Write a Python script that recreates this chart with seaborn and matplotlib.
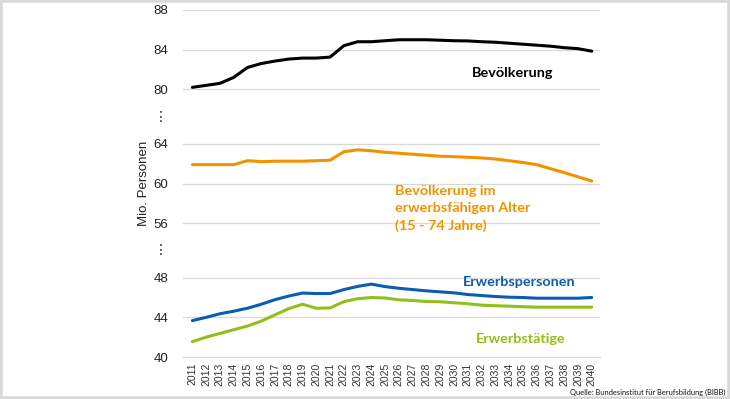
import numpy as np
import pandas as pd
import seaborn as sns
import matplotlib.pyplot as plt
from matplotlib.patches import Rectangle
from matplotlib.transforms import blended_transform_factory

# data (Mio. Personen)
years = list(range(2011, 2041))
bevoelkerung = [80.2, 80.4, 80.6, 81.2, 82.2, 82.6, 82.85, 83.05, 83.15, 83.15,
                83.25, 84.4, 84.8, 84.8, 84.9, 85.0, 85.0, 85.0, 84.95, 84.9,
                84.88, 84.8, 84.75, 84.65, 84.55, 84.45, 84.35, 84.2, 84.1, 83.85]
erwerbsalter = [61.9, 61.9, 61.9, 61.9, 62.3, 62.2, 62.25, 62.25, 62.25, 62.3,
                62.35, 63.2, 63.4, 63.3, 63.15, 63.05, 62.95, 62.85, 62.75, 62.7,
                62.65, 62.58, 62.47, 62.3, 62.12, 61.9, 61.5, 61.1, 60.68, 60.25]
erwerbspersonen = [43.67, 44.0, 44.36, 44.62, 44.92, 45.32, 45.78, 46.15, 46.45, 46.4,
                   46.4, 46.8, 47.12, 47.35, 47.1, 46.93, 46.8, 46.67, 46.57, 46.47,
                   46.3, 46.2, 46.1, 46.03, 46.0, 45.93, 45.93, 45.93, 45.93, 46.0]
erwerbstaetige = [41.55, 42.0, 42.38, 42.75, 43.12, 43.62, 44.25, 44.88, 45.32, 44.92,
                  44.95, 45.58, 45.88, 46.0, 45.95, 45.77, 45.7, 45.6, 45.57, 45.47,
                  45.37, 45.23, 45.17, 45.13, 45.07, 45.03, 45.03, 45.03, 45.03, 45.03]
series_names = ["Bevölkerung", "Bevölkerung im erwerbsfähigen Alter",
                "Erwerbspersonen", "Erwerbstätige"]
colors = ["#000000", "#F39200", "#0A5DB0", "#93BF1A"]
ytick_values = [40, 44, 48, 56, 60, 64, 80, 84, 88]


def to_axis(v):
    # broken y axis: squeeze out 48-56 and 64-80
    v = np.asarray(v, dtype=float)
    return np.where(v >= 72, v - 13.0, np.where(v >= 52, v - 2.5, v))


df = pd.DataFrame({
    "year": years * 4,
    "value": bevoelkerung + erwerbsalter + erwerbspersonen + erwerbstaetige,
    "series": sum([[n] * len(years) for n in series_names], []),
})
df["pos"] = to_axis(df["value"])

sns.set_theme(style="white")
plt.rcParams["font.family"] = ["Lato", "DejaVu Sans"]

fig = plt.figure(figsize=(7.3, 3.99), dpi=100)
ax = fig.add_axes([183 / 730, 1 - 357 / 399, 417 / 730, 347 / 399])

sns.lineplot(data=df, x="year", y="pos", hue="series", palette=colors,
             linewidth=2.2, legend=False, ax=ax)

ax.set_xlim(2011 - 0.68, 2040 + 0.6)
ax.set_ylim(40, 75)
ax.set_yticks(to_axis(ytick_values))
ax.set_yticklabels([str(v) for v in ytick_values], fontsize=9.5, color="#222222",
                   family=["Liberation Sans"])
ax.set_xticks(years)
ax.set_xticklabels([str(y) for y in years], rotation=90, fontsize=7.5,
                   color="#333333", family=["Liberation Sans"])
ax.tick_params(axis="y", length=0, pad=10.5)
ax.tick_params(axis="x", length=0, pad=4)
ax.grid(axis="y", color="#d9d9d9", linewidth=0.9)
ax.grid(axis="x", visible=False)
for side in ["left", "right", "top"]:
    ax.spines[side].set_visible(False)
ax.spines["bottom"].set_color("#d9d9d9")
ax.spines["bottom"].set_linewidth(0.9)

ax.set_xlabel("")
ax.set_ylabel("Mio. Personen", fontsize=9.5, color="#222222",
              family=["Liberation Sans"])
ax.yaxis.set_label_coords(-0.079, 0.5)

# dots marking the breaks
trans = blended_transform_factory(ax.transAxes, ax.transData)
for mid in [(48 + float(to_axis(56))) / 2, (float(to_axis(64)) + float(to_axis(80))) / 2]:
    ax.text(-0.053, mid, "⋮", transform=trans, ha="center", va="center",
            fontsize=10, color="#222222", family=["DejaVu Sans"])

# series labels
ax.text(2031.27, to_axis(81.6), "Bevölkerung", fontsize=10.4, fontweight="bold",
        color="#000000", va="center", ha="left")
ax.text(2025.71, to_axis(57.5), "Bevölkerung im\nerwerbsfähigen Alter\n(15 - 74 Jahre)",
        fontsize=10.4, fontweight="bold", color=colors[1], va="center", ha="left",
        linespacing=1.5)
ax.text(2030.62, to_axis(47.6), "Erwerbspersonen", fontsize=10.4, fontweight="bold",
        color=colors[2], va="center", ha="left")
ax.text(2031.57, to_axis(41.85), "Erwerbstätige", fontsize=10.4, fontweight="bold",
        color=colors[3], va="center", ha="left")

fig.text(725 / 730, 1 - 392 / 399, "Quelle: Bundesinstitut für Berufsbildung (BIBB)",
         fontsize=5.4, ha="right", va="center", color="#111111")

fig.patches.append(Rectangle((0, 0), 1, 1, transform=fig.transFigure, fill=False,
                             edgecolor="#d9d9d9", linewidth=4))

fig.savefig("out.png", dpi=100)
